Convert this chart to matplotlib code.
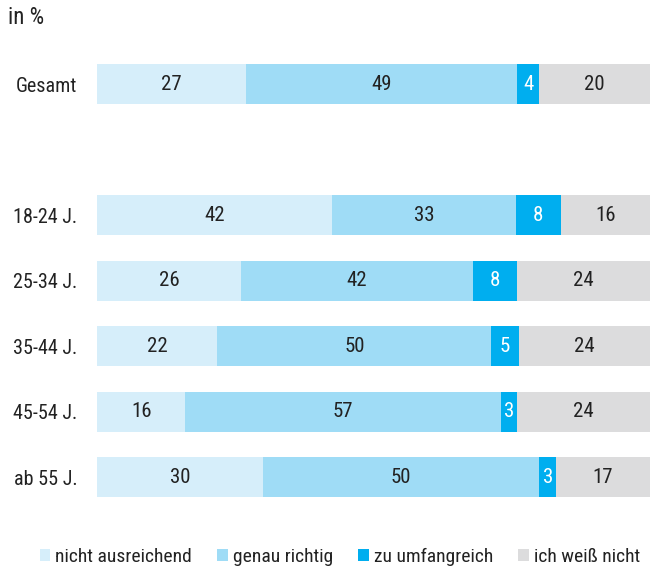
import matplotlib.pyplot as plt
from matplotlib.patches import Patch

plt.rcParams['font.family'] = ['Roboto Condensed', 'Liberation Sans Narrow', 'Roboto', 'DejaVu Sans']

categories = ["Gesamt", "18-24 J.", "25-34 J.", "35-44 J.", "45-54 J.", "ab 55 J."]
rows = [0, 2, 3, 4, 5, 6]
series = ["nicht ausreichend", "genau richtig", "zu umfangreich", "ich weiß nicht"]
nicht_ausreichend = [27, 42, 26, 22, 16, 30]
genau_richtig = [49, 33, 42, 50, 57, 50]
zu_umfangreich = [4, 8, 8, 5, 3, 3]
weiss_nicht = [20, 16, 24, 24, 24, 17]

colors = ["#d6eefa", "#9fdcf6", "#00aeef", "#dcdcdd"]
text_colors = ["#222222", "#222222", "white", "#222222"]

values = [nicht_ausreichend, genau_richtig, zu_umfangreich, weiss_nicht]
totals = [sum(v[i] for v in values) for i in range(len(categories))]

fig = plt.figure(figsize=(6.5, 5.72), dpi=100)
ax = fig.add_axes([97 / 650, 1 - 510 / 572, 553 / 650, 460 / 572])

left = [0.0] * len(categories)
for vals, col, tcol in zip(values, colors, text_colors):
    widths = [v / t * 100 for v, t in zip(vals, totals)]
    ax.barh(rows, widths, left=left, height=0.61, color=col, linewidth=0)
    for r, l, w, v in zip(rows, left, widths, vals):
        ax.text(l + w / 2, r, str(v), ha="center", va="center",
                fontsize=15, color=tcol)
    left = [l + w for l, w in zip(left, widths)]

ax.set_xlim(0, 100)
ax.set_ylim(6.5, -0.52)
ax.set_yticks(rows)
ax.set_yticklabels(categories, fontsize=14.5, color="#222222")
ax.tick_params(axis="y", length=0, pad=14)
ax.set_xticks([])
for s in ax.spines.values():
    s.set_visible(False)

fig.text(8 / 650, 1 - 18 / 572, "in %", fontsize=16.5, color="#222222",
         ha="left", va="center")

handles = [Patch(facecolor=c, edgecolor="none") for c in colors]
fig.legend(handles, series, loc="center", bbox_to_anchor=(0.523, 1 - 557 / 572),
           ncol=4, frameon=False, fontsize=14, handlelength=0.55,
           handleheight=0.55, handletextpad=0.25, columnspacing=1.3,
           labelcolor="#222222", borderpad=0, borderaxespad=0)

fig.savefig("out.png", dpi=100)
